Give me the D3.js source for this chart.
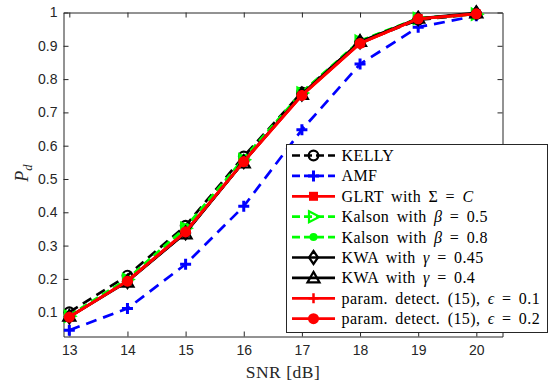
<!DOCTYPE html>
<html>
<head>
<meta charset="utf-8">
<script src="https://cdn.jsdelivr.net/npm/d3@7"></script>
<style>
  body { margin: 0; background: #fff; }
  svg { display: block; }
</style>
</head>
<body>
<div id="chart"></div>
<script>
// SNR values on the x axis
const snr = [13, 14, 15, 16, 17, 18, 19, 20];
const xTicks = [13, 14, 15, 16, 17, 18, 19, 20];
const yTicks = [0.1, 0.2, 0.3, 0.4, 0.5, 0.6, 0.7, 0.8, 0.9, 1];

// detection probability per detector
const kelly     = [0.100, 0.210, 0.360, 0.568, 0.760, 0.910, 0.978, 0.995];
const amf       = [0.046, 0.111, 0.244, 0.418, 0.648, 0.845, 0.956, 0.990];
const glrt      = [0.086, 0.194, 0.342, 0.552, 0.752, 0.908, 0.982, 0.996];
const kalson05  = [0.088, 0.198, 0.352, 0.558, 0.758, 0.914, 0.982, 0.995];
const kalson08  = [0.090, 0.200, 0.355, 0.562, 0.760, 0.915, 0.983, 0.996];
const kwa045    = [0.086, 0.192, 0.338, 0.552, 0.755, 0.912, 0.982, 0.999];
const kwa04     = [0.088, 0.190, 0.335, 0.548, 0.754, 0.913, 0.983, 0.999];
const param01   = [0.086, 0.194, 0.342, 0.553, 0.752, 0.908, 0.981, 0.996];
const param02   = [0.085, 0.193, 0.341, 0.552, 0.751, 0.907, 0.981, 0.996];

const labels = [
  "KELLY",
  "AMF",
  "GLRT with Σ = C",
  "Kalson with β = 0.5",
  "Kalson with β = 0.8",
  "KWA with γ = 0.45",
  "KWA with γ = 0.4",
  "param. detect. (15), ϵ = 0.1",
  "param. detect. (15), ϵ = 0.2"
];
const seriesValues = [kelly, amf, glrt, kalson05, kalson08, kwa045, kwa04, param01, param02];

// look of each series
const styles = [
  { color: "#000000", dash: "10,6", marker: "circle" },
  { color: "#0000ff", dash: "11,7", marker: "plus" },
  { color: "#ff0000", dash: null,   marker: "square" },
  { color: "#00ff00", dash: "8,5",  marker: "triRight" },
  { color: "#00ff00", dash: "8,5",  marker: "dot" },
  { color: "#000000", dash: null,   marker: "diamond" },
  { color: "#000000", dash: null,   marker: "triUp" },
  { color: "#ff0000", dash: null,   marker: "redPlus" },
  { color: "#ff0000", dash: null,   marker: "bigDot" }
];

const W = 548, H = 384;
const svg = d3.select("#chart").append("svg")
  .attr("width", W).attr("height", H);

const x = d3.scaleLinear().domain([12.9, 20.45]).range([63.5, 502.5]);
const y = d3.scaleLinear().domain([0.027, 1]).range([336.5, 12.5]);

const axisColor = "#262626";
const tickFont = "'Liberation Sans', Arial, sans-serif";
const serif = "'Liberation Serif', 'Times New Roman', serif";

// axes box
const axL = x.range()[0], axR = x.range()[1], axT = y.range()[1], axB = y.range()[0];
svg.append("rect")
  .attr("x", axL).attr("y", axT)
  .attr("width", axR - axL).attr("height", axB - axT)
  .attr("fill", "#fff");

const axisBottom = d3.axisBottom(x).tickValues(xTicks).tickSize(-5).tickSizeOuter(0).tickFormat(d3.format("d"));
const axisTop = d3.axisTop(x).tickValues(xTicks).tickSize(-5).tickSizeOuter(0).tickFormat("");
const axisLeft = d3.axisLeft(y).tickValues(yTicks).tickSize(-5).tickSizeOuter(0).tickFormat(d => d === 1 ? "1" : d3.format(".1f")(d));
const axisRight = d3.axisRight(y).tickValues(yTicks).tickSize(-5).tickSizeOuter(0).tickFormat("");

function styleAxis(g) {
  g.select(".domain").attr("stroke", axisColor).attr("stroke-width", 1);
  g.selectAll(".tick line").attr("stroke", axisColor);
  g.selectAll(".tick text").attr("fill", axisColor)
    .style("font-family", tickFont).style("font-size", "14px");
}

svg.append("g").attr("transform", `translate(0,${axB})`).call(axisBottom).call(styleAxis)
  .call(g => g.selectAll(".tick text").attr("y", 9).attr("dy", "0.71em"));
svg.append("g").attr("transform", `translate(0,${axT})`).call(axisTop).call(styleAxis);
svg.append("g").attr("transform", `translate(${axL},0)`).call(axisLeft).call(styleAxis)
  .call(g => g.selectAll(".tick text").attr("x", -6));
svg.append("g").attr("transform", `translate(${axR},0)`).call(axisRight).call(styleAxis);

// marker drawing
function drawMarker(g, type, color) {
  switch (type) {
    case "circle":
      g.append("circle").attr("r", 4.8).attr("fill", "none").attr("stroke", color).attr("stroke-width", 2.2);
      break;
    case "plus":
      g.append("path").attr("d", "M-5.5,0H5.5M0,-5.5V5.5").attr("stroke", color).attr("stroke-width", 3);
      break;
    case "redPlus":
      g.append("path").attr("d", "M-5,0H5M0,-5V5").attr("stroke", color).attr("stroke-width", 2.5);
      break;
    case "square":
      g.append("rect").attr("x", -4.5).attr("y", -4.5).attr("width", 9).attr("height", 9).attr("fill", color);
      break;
    case "triRight":
      g.append("path").attr("d", "M-4.5,-5.5L6,0L-4.5,5.5Z").attr("fill", "none").attr("stroke", color).attr("stroke-width", 2.2);
      break;
    case "dot":
      g.append("circle").attr("r", 4).attr("fill", color);
      break;
    case "diamond":
      g.append("path").attr("d", "M0,-6.5L4.5,0L0,6.5L-4.5,0Z").attr("fill", "none").attr("stroke", color).attr("stroke-width", 2.2);
      break;
    case "triUp":
      g.append("path").attr("d", "M0,-6L6,4.5L-6,4.5Z").attr("fill", "none").attr("stroke", color).attr("stroke-width", 2.2);
      break;
    case "bigDot":
      g.append("circle").attr("r", 5.5).attr("fill", color);
      break;
  }
}

const line = d3.line().x((d, i) => x(snr[i])).y(d => y(d));
const plot = svg.append("g");

seriesValues.forEach((vals, s) => {
  const st = styles[s];
  const g = plot.append("g");
  g.append("path")
    .attr("d", line(vals))
    .attr("fill", "none")
    .attr("stroke", st.color)
    .attr("stroke-width", s === 6 ? 1 : 2.7)
    .attr("stroke-dasharray", st.dash)
    .attr("stroke-linejoin", "round");
  vals.forEach((v, i) => {
    drawMarker(g.append("g").attr("transform", `translate(${x(snr[i])},${y(v)})`), st.marker, st.color);
  });
});

// axis labels
svg.append("text")
  .attr("x", (axL + axR) / 2).attr("y", 378)
  .attr("text-anchor", "middle")
  .style("font-family", serif).style("font-size", "17.5px")
  .style("letter-spacing", "0.5px")
  .attr("fill", axisColor)
  .text("SNR [dB]");

const yl = svg.append("text")
  .attr("transform", "translate(27.5,173) rotate(-90)")
  .attr("text-anchor", "middle")
  .style("font-family", serif).style("font-size", "18px").style("font-style", "italic")
  .attr("fill", axisColor);
yl.append("tspan").text("P");
yl.append("tspan").attr("dy", 4).style("font-size", "12.5px").text("d");

// legend
const lg = svg.append("g");
const lgX = 286.5, lgY = 144.5, lgW = 261, lgH = 188;
lg.append("rect")
  .attr("x", lgX).attr("y", lgY).attr("width", lgW).attr("height", lgH)
  .attr("fill", "#fff").attr("stroke", "#262626").attr("stroke-width", 1);

const rowStep = 20.4;
labels.forEach((lab, s) => {
  const st = styles[s];
  const cy = 155.5 + s * rowStep;
  lg.append("line")
    .attr("x1", 292).attr("x2", 335).attr("y1", cy).attr("y2", cy)
    .attr("stroke", st.color).attr("stroke-width", 2.7)
    .attr("stroke-dasharray", st.dash ? "8,4" : null);
  drawMarker(lg.append("g").attr("transform", `translate(313.5,${cy})`), st.marker, st.color);
  const t = lg.append("text")
    .attr("x", 341.5).attr("y", cy + 5.5)
    .style("font-family", serif).style("font-size", "16px")
    .style("letter-spacing", "0.4px").style("word-spacing", "3px")
    .attr("fill", "#000")
    .attr("xml:space", "preserve");
  const parts = lab.split(/(Σ|β|γ|ϵ|C$|=)/).filter(p => p !== "");
  parts.forEach(p => {
    const ts = t.append("tspan").text(p);
    if (/^(β|γ|ϵ|C)$/.test(p)) ts.style("font-style", "italic");
  });
});
</script>
</body>
</html>
